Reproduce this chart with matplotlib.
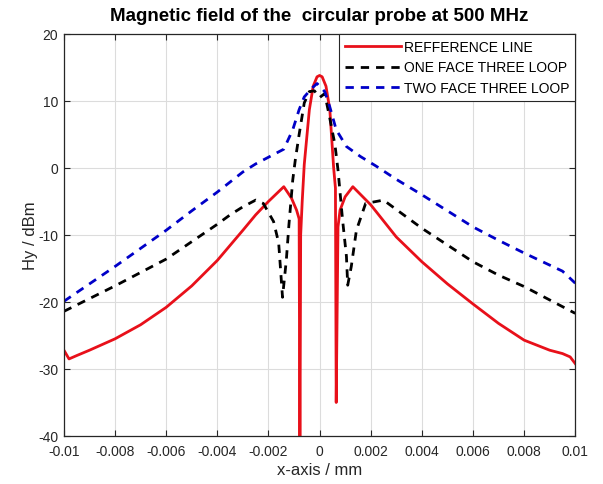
import matplotlib
matplotlib.use("Agg")
import matplotlib.pyplot as plt

plt.rcParams['font.family'] = ['Liberation Sans', 'DejaVu Sans']
plt.rcParams['axes.unicode_minus'] = False

# Reference line (red)
x_ref = [-0.01, -0.0098, -0.0095, -0.009, -0.008, -0.007, -0.006, -0.005, -0.004, -0.003,
         -0.0025, -0.002, -0.0014, -0.0011, -0.0009, -0.0008, -0.00077, -0.00074, -0.00068,
         -0.0006, -0.0004, -0.00025, -0.0001, 0.0, 0.0001, 0.00025, 0.0004, 0.00055, 0.00062,
         0.00065, 0.00072, 0.0008, 0.001, 0.0013, 0.002, 0.003, 0.004, 0.005, 0.006, 0.007,
         0.008, 0.009, 0.0095, 0.0098, 0.01]
y_ref = [-27.2, -28.5, -28.0, -27.2, -25.5, -23.4, -20.8, -17.6, -13.8, -9.3,
         -7.0, -5.0, -2.8, -4.5, -6.3, -7.6, -45.0, -10.0, -5.0,
         0.5, 8.7, 12.2, 13.6, 13.8, 13.6, 12.2, 8.7, 0.0, -3.0,
         -35.0, -8.8, -6.3, -4.3, -2.8, -5.5, -10.3, -14.0, -17.3, -20.3, -23.2,
         -25.7, -27.2, -27.7, -28.2, -29.2]

# One face three loop (black dashed)
x_one = [-0.01, -0.009, -0.008, -0.007, -0.006, -0.005, -0.004, -0.0035, -0.003, -0.0025,
         -0.0022, -0.0018, -0.0016, -0.00145, -0.0013, -0.0012, -0.00105, -0.00095, -0.0008,
         -0.0006, -0.0004, -0.0002, 0.0, 0.0002, 0.0004, 0.0006, 0.00072, 0.0009, 0.00105,
         0.0011, 0.00124, 0.00144, 0.0018, 0.0025, 0.003, 0.004, 0.005, 0.006, 0.007, 0.008,
         0.009, 0.01]
y_one = [-21.4, -19.5, -17.6, -15.6, -13.6, -11.0, -8.4, -7.0, -5.8, -4.8,
         -5.3, -8.0, -11.2, -19.3, -13.7, -8.5, -1.8, 1.2, 5.0,
         9.7, 11.4, 11.5, 10.5, 11.1, 7.4, 3.5, -0.3, -7.8, -13.2,
         -17.5, -14.7, -9.3, -5.3, -4.8, -6.2, -9.0, -11.5, -14.0, -16.0, -17.7,
         -19.7, -21.7]

# Two face three loop (blue dashed)
x_two = [-0.01, -0.009, -0.008, -0.007, -0.006, -0.005, -0.004, -0.003, -0.0025, -0.002,
         -0.0014, -0.00105, -0.0008, -0.0006, -0.0003, -0.0001, 0.0002, 0.0004, 0.00065,
         0.00105, 0.0016, 0.0022, 0.003, 0.004, 0.005, 0.006, 0.007, 0.008, 0.009, 0.0095, 0.01]
y_two = [-19.9, -17.3, -14.7, -12.0, -9.3, -6.4, -3.6, -0.6, 0.6, 1.6,
         2.8, 5.7, 8.7, 10.6, 11.9, 12.6, 11.4, 9.1, 5.7,
         3.2, 1.7, 0.3, -1.7, -4.0, -6.4, -8.8, -10.8, -12.7, -14.5, -15.4, -17.2]

labels = ['REFFERENCE LINE', 'ONE FACE THREE LOOP', 'TWO FACE THREE LOOP']
x_ticks = [-0.01, -0.008, -0.006, -0.004, -0.002, 0, 0.002, 0.004, 0.006, 0.008, 0.01]
x_tick_labels = ['-0.01', '-0.008', '-0.006', '-0.004', '-0.002', '0', '0.002', '0.004',
                 '0.006', '0.008', '0.01']
y_ticks = [-40, -30, -20, -10, 0, 10, 20]

fig = plt.figure(figsize=(6.03, 4.85), dpi=100)
ax = fig.add_axes([0.106, 0.099, 0.848, 0.829])

ax.plot(x_ref, y_ref, color='#e8101a', lw=2.0, label=labels[0])
ax.plot(x_one, y_one, color='black', lw=2.0, ls=(0, (3.0, 2.5)), label=labels[1])
ax.plot(x_two, y_two, color='#0000c8', lw=2.0, ls=(0, (3.0, 2.5)), label=labels[2])

ax.set_xlim(-0.01, 0.01)
ax.set_ylim(-40, 20)
ax.set_xticks(x_ticks)
ax.set_xticklabels(x_tick_labels)
ax.set_yticks(y_ticks)
ax.grid(True, color='#dcdcdc', lw=0.8)
ax.set_axisbelow(True)
ax.tick_params(direction='in', top=True, right=True, labelsize=10, colors='#262626',
               length=4, width=0.8)
ax.tick_params(axis='x', pad=6)
ax.tick_params(axis='y', pad=4)
for s in ax.spines.values():
    s.set_color('#262626')
    s.set_linewidth(0.9)

ax.set_title('Magnetic field of the  circular probe at 500 MHz', fontsize=13.5,
             fontweight='bold', pad=10)
ax.set_xlabel('x-axis / mm', fontsize=12, color='#262626', labelpad=3)
ax.set_ylabel('Hy / dBm', fontsize=12, color='#262626', labelpad=0)

leg = ax.legend(loc='upper right', fontsize=10, handlelength=4.0, handletextpad=0.2,
                borderaxespad=0.0, fancybox=False, framealpha=1, edgecolor='#262626',
                labelspacing=0.45, borderpad=0.45)
leg.get_frame().set_linewidth(0.8)

fig.savefig('out.png', dpi=100)
